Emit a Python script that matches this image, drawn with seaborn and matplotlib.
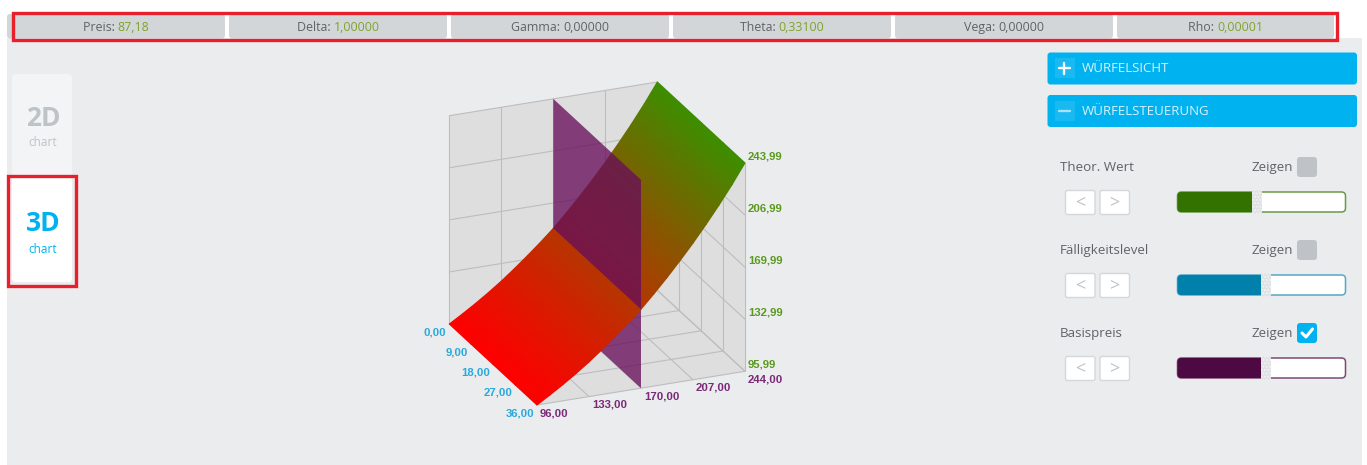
import numpy as np
import pandas as pd
import matplotlib
matplotlib.use("Agg")
import matplotlib.pyplot as plt
from matplotlib.patches import FancyBboxPatch, Polygon, Rectangle
import seaborn as sns

# values
metric_names = ["Preis", "Delta", "Gamma", "Theta", "Vega", "Rho"]
metric_values = ["87,18", "1,00000", "0,00000", "0,33100", "0,00000", "0,00001"]
metric_green = [True, True, False, True, False, True]

strike_ticks = [96, 133, 170, 207, 244]
strike_labels = ["96,00", "133,00", "170,00", "207,00", "244,00"]
maturity_ticks = [0, 9, 18, 27, 36]
maturity_labels = ["0,00", "9,00", "18,00", "27,00", "36,00"]
value_ticks = [95.99, 132.99, 169.99, 206.99, 243.99]
value_labels = ["95,99", "132,99", "169,99", "206,99", "243,99"]

surface_strikes = [96, 105.25, 114.5, 123.75, 133, 142.25, 151.5, 160.75, 170,
                   179.25, 188.5, 197.75, 207, 216.25, 225.5, 234.75, 244]
surface_values = [95.99, 101.6, 107.5, 113.8, 120.5, 127.8, 135.5, 143.5, 152,
                  161.5, 171.5, 182, 193, 204.7, 217, 230, 243.99]
plane_strike = 170

control_names = ["Theor. Wert", "Fälligkeitslevel", "Basispreis"]
control_checked = [False, False, True]
control_fill = [0.445, 0.50, 0.50]
control_colors = ["#337200", "#0080AA", "#4D0A42"]
control_borders = ["#6A9A45", "#55A8C5", "#7D4A75"]

BLUE = "#00B2F0"
RED = "#E8202C"
TEXT = "#5F6368"
GREEN_TEXT = "#7FA32C"

sns.set_style("white")
plt.rcParams["font.family"] = ["Open Sans", "DejaVu Sans"]

fig = plt.figure(figsize=(13.67, 4.65), dpi=100, facecolor="white")
ax = fig.add_axes([0, 0, 1, 1])
ax.axis("off")
ax.set_xlim(0, 1367)
ax.set_ylim(465, 0)


def box(x0, y0, x1, y1, color, edge="none", lw=0, r=3, z=2, **kw):
    p = FancyBboxPatch((x0, y0), x1 - x0, y1 - y0,
                       boxstyle=f"round,pad=0,rounding_size={r}",
                       facecolor=color, edgecolor=edge, linewidth=lw, zorder=z, **kw)
    ax.add_patch(p)


# the cube is a parallel projection: each axis moves along a fixed screen direction
def project(strike, maturity, value):
    s = (np.asarray(strike, dtype=float) - 96) / 148
    m = np.asarray(maturity, dtype=float) / 36
    v = (np.asarray(value, dtype=float) - 95.99) / 148
    px = 449.3 + 208 * s + 87.7 * m
    py = 324 - 33.7 * s + 81 * m - 208.3 * v
    return px, py


# page background
ax.add_patch(Rectangle((7, 38), 1355, 427, color="#EAECEE", zorder=0, lw=0))

# metrics bar
cell_left = [7, 229, 451, 673, 895, 1117]
cell_right = [225, 447, 669, 891, 1113, 1334]
renderer = fig.canvas.get_renderer()
for i, name in enumerate(metric_names):
    box(cell_left[i], 14, cell_right[i], 38.5, "#D3D6D9", r=3)
    cx = (cell_left[i] + cell_right[i]) / 2
    label = ax.text(0, 27.5, f"{name}: ", ha="left", va="center", fontsize=8.9, color=TEXT, zorder=5)
    val = ax.text(0, 27.5, metric_values[i], ha="left", va="center", fontsize=8.9,
                  color=GREEN_TEXT if metric_green[i] else TEXT, zorder=5)
    w0 = label.get_window_extent(renderer).width
    w1 = val.get_window_extent(renderer).width
    label.set_x(cx - (w0 + w1) / 2)
    val.set_x(cx - (w0 + w1) / 2 + w0)
ax.add_patch(Rectangle((13, 12.8), 1323.5, 27.4, fill=False, edgecolor=RED, lw=2.4, zorder=6))

# 2D / 3D tabs
box(12, 74, 72, 176, "#F3F4F6", r=4)
box(12, 177, 72, 282, "white", r=4)
ax.text(43, 118, "2D", ha="center", va="center", fontsize=19, fontweight="bold", color="#BEC3C7")
ax.text(43, 142.5, "chart", ha="center", va="center", fontsize=8.5, color="#BEC3C7")
ax.text(43, 223.5, "3D", ha="center", va="center", fontsize=19, fontweight="bold", color=BLUE)
ax.text(43, 249, "chart", ha="center", va="center", fontsize=8.5, color=BLUE)
ax.add_patch(Rectangle((7.5, 175.5), 68, 110, fill=False, edgecolor=RED, lw=2.4, zorder=6))

# cube walls
s0, s1 = strike_ticks[0], strike_ticks[-1]
m0, m1 = maturity_ticks[0], maturity_ticks[-1]
v0, v1 = value_ticks[0], value_ticks[-1]
walls = [
    [(s0, m0, v0), (s1, m0, v0), (s1, m0, v1), (s0, m0, v1)],
    [(s1, m0, v0), (s1, m1, v0), (s1, m1, v1), (s1, m0, v1)],
    [(s0, m0, v0), (s1, m0, v0), (s1, m1, v0), (s0, m1, v0)],
]
for wall in walls:
    pts = np.array(wall).T
    ax.add_patch(Polygon(np.column_stack(project(*pts)), color="#DEDEDE", lw=0, zorder=1))

# grid lines, one row per segment end
rows = []


def add_segment(a, b):
    seg = len(rows)
    for p in (a, b):
        px, py = project(*p)
        rows.append({"seg": seg, "px": float(px), "py": float(py)})


for s in strike_ticks:
    add_segment((s, m0, v0), (s, m0, v1))
    add_segment((s, m0, v0), (s, m1, v0))
for m in maturity_ticks:
    add_segment((s1, m, v0), (s1, m, v1))
    add_segment((s0, m, v0), (s1, m, v0))
for v in value_ticks:
    add_segment((s0, m0, v), (s1, m0, v))
    add_segment((s1, m0, v), (s1, m1, v))
grid_df = pd.DataFrame(rows)
sns.lineplot(data=grid_df, x="px", y="py", units="seg", estimator=None, sort=False,
             color="#BDBDBF", linewidth=0.8, legend=False, ax=ax, zorder=2)

# basis price plane, the part below the surface goes behind it
plane_color = "#680E5B"
plane_alpha = 0.78
plane_v = surface_values[surface_strikes.index(plane_strike)]
low = np.array([(plane_strike, m0, v0), (plane_strike, m1, v0),
                (plane_strike, m1, plane_v), (plane_strike, m0, plane_v)]).T
ax.add_patch(Polygon(np.column_stack(project(*low)), color=plane_color, alpha=plane_alpha, lw=0, zorder=3))

# option surface
sg, mg = np.meshgrid(surface_strikes, maturity_ticks)
vg = np.tile(surface_values, (len(maturity_ticks), 1))
gx, gy = project(sg, mg, vg)
cmap = sns.blend_palette(["#FF0000", "#3D8F00"], as_cmap=True)
ax.pcolormesh(gx, gy, vg, cmap=cmap, vmin=v0, vmax=v1, shading="gouraud", zorder=4)

high = np.array([(plane_strike, m0, plane_v), (plane_strike, m1, plane_v),
                 (plane_strike, m1, v1), (plane_strike, m0, v1)]).T
ax.add_patch(Polygon(np.column_stack(project(*high)), color=plane_color, alpha=plane_alpha, lw=0, zorder=5))

# tick labels
tick_font = dict(family="Liberation Sans", fontweight="bold", fontsize=8.2, va="center", zorder=6)
for v, lab in zip(value_ticks, value_labels):
    px, py = project(s1, m1, v)
    ax.text(px + 3, py - 7, lab, color="#5A9A1E", ha="left", **tick_font)
for m, lab in zip(maturity_ticks, maturity_labels):
    px, py = project(s0, m, v0)
    ax.text(px - 3, py + 8, lab, color="#2AA9DC", ha="right", **tick_font)
for s, lab in zip(strike_ticks, strike_labels):
    px, py = project(s, m1, v0)
    ax.text(px + 3, py + 8, lab, color="#7A2A78", ha="left", **tick_font)

# right hand buttons
for y0, title, minus in [(52.5, "WÜRFELSICHT", False), (95, "WÜRFELSTEUERUNG", True)]:
    box(1047.5, y0, 1357, y0 + 32, BLUE, r=3)
    ax.add_patch(Rectangle((1055, y0 + 5.5), 20, 20.5, color="white", alpha=0.1, lw=0, zorder=3))
    cy = y0 + 16
    line_color = "#A8E3F8" if minus else "white"
    ax.plot([1058.5, 1070], [cy, cy], color=line_color, lw=1.7, zorder=4)
    if not minus:
        ax.plot([1064.2, 1064.2], [cy - 5.7, cy + 5.7], color=line_color, lw=1.7, zorder=4)
    ax.text(1082, cy, title, color="#D6F2FC", fontsize=9.55, ha="left", va="center", zorder=4)

# control rows
row_y = [167, 250, 333]
for i, name in enumerate(control_names):
    y = row_y[i]
    ax.text(1060, y, name, color=TEXT, fontsize=9.6, ha="left", va="center")
    ax.text(1293, y, "Zeigen", color=TEXT, fontsize=9.6, ha="right", va="center")
    box(1297, y - 10, 1317, y + 10, BLUE if control_checked[i] else "#BFC3C7", r=3)
    if control_checked[i]:
        ax.plot([1302, 1306, 1312.5], [y, y + 4, y - 4], color="white", lw=2.2, zorder=4,
                solid_capstyle="round", solid_joinstyle="round")
    for x0, sign in [(1065.5, "<"), (1100, ">")]:
        box(x0, y + 23.5, x0 + 29.5, y + 47.5, "white", edge="#D5D8DB", lw=1, r=2)
        ax.text(x0 + 14.7, y + 35, sign, color="#BFC3C7", fontsize=13, ha="center", va="center", zorder=4)
    # slider
    sy0, sy1 = y + 25, y + 45
    sx0, sx1 = 1177.5, 1345.5
    box(sx0, sy0, sx1, sy1, "white", edge=control_borders[i], lw=1.1, r=4)
    fx = sx0 + (sx1 - sx0) * control_fill[i]
    box(sx0, sy0, fx + 2, sy1, control_colors[i], r=4, z=3)
    ax.add_patch(Rectangle((fx - 0.5, sy0 - 2), 10, 24, facecolor="#DFE1E3", edgecolor="#F2F3F4",
                           hatch=".....", lw=0, zorder=4))

ax.set_xlim(0, 1367)
ax.set_ylim(465, 0)
ax.set_xlabel("")
ax.set_ylabel("")
fig.savefig("out.png", dpi=100, facecolor="white")
